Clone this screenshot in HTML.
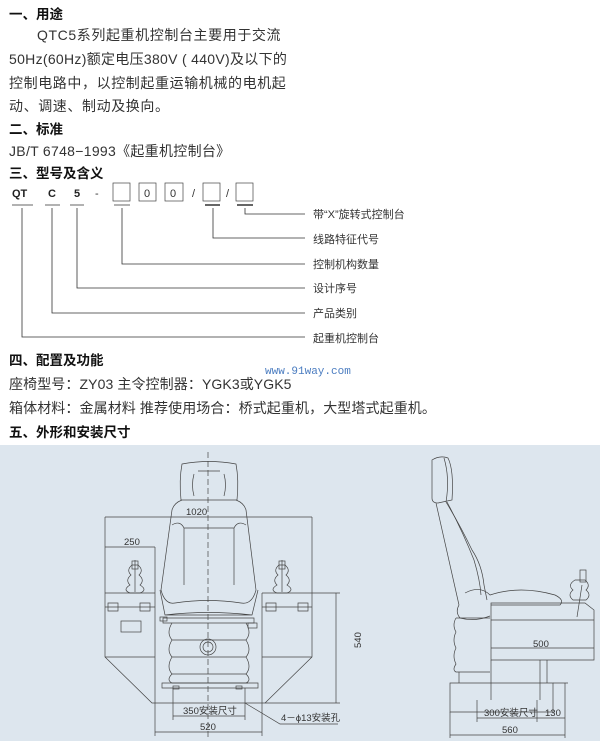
<!DOCTYPE html>
<html><head><meta charset="utf-8"><style>
html,body{margin:0;padding:0;background:#fff;width:600px;height:741px;overflow:hidden}
svg{display:block}
.h{font:bold 13.5px "Liberation Sans","Noto Sans CJK SC",sans-serif;fill:#111}
.b{font:14px "Liberation Sans","Noto Sans CJK SC",sans-serif;fill:#333;letter-spacing:0.6px}
.b2{font:14px "Liberation Sans","Noto Sans CJK SC",sans-serif;fill:#333;letter-spacing:0.1px}
.s{font:11px "Liberation Sans","Noto Sans CJK SC",sans-serif;fill:#333}
.m{font:bold 11px "Liberation Sans",sans-serif;fill:#222}
.d{font:9.5px "Liberation Sans","Noto Sans CJK SC",sans-serif;fill:#333}
.l{stroke:#333;stroke-width:0.8;fill:none}
.g{stroke:#444;stroke-width:0.7;fill:none}
</style></head><body>
<svg width="600" height="741" xmlns="http://www.w3.org/2000/svg">
<rect width="600" height="741" fill="#fff"/>
<text class="h" x="9" y="19">一、用途</text>
<text class="b" x="37" y="40">QTC5系列起重机控制台主要用于交流</text>
<text class="b" x="9" y="64" style="letter-spacing:0.3px">50Hz(60Hz)额定电压380V ( 440V)及以下的</text>
<text class="b" x="9" y="88">控制电路中，以控制起重运输机械的电机起</text>
<text class="b" x="9" y="111">动、调速、制动及换向。</text>
<text class="h" x="9" y="134">二、标准</text>
<text class="b" x="9" y="156" style="letter-spacing:0.3px">JB/T 6748−1993《起重机控制台》</text>
<text class="h" x="9" y="178">三、型号及含义</text>

<text class="m" x="12" y="197">QT</text>
<text class="m" x="48" y="197">C</text>
<text class="m" x="74" y="197">5</text>
<text class="s" x="95" y="197">-</text>
<rect x="113" y="183" width="17" height="18" class="g"/>
<rect x="139" y="183" width="17" height="18" class="g"/>
<text class="s" x="144" y="197">0</text>
<rect x="165" y="183" width="18" height="18" class="g"/>
<text class="s" x="170" y="197">0</text>
<text class="s" x="192" y="197">/</text>
<rect x="203" y="183" width="17" height="18" class="g"/>
<text class="s" x="226" y="197">/</text>
<rect x="236" y="183" width="17" height="18" class="g"/>
<g class="l">
<path d="M12 205H33M45 205H60M70 205H84M114 205H130"/>
<path d="M205 205H220M237 205H253" stroke-width="1.5"/>
<path d="M245 208V214H305M213 208V238H305M122 208V264H305M77 208V288H305M52 208V313H305M22 208V337H305"/>
</g>
<text class="s" x="313" y="218">带“X”旋转式控制台</text>
<text class="s" x="313" y="243">线路特征代号</text>
<text class="s" x="313" y="268">控制机构数量</text>
<text class="s" x="313" y="292">设计序号</text>
<text class="s" x="313" y="317">产品类别</text>
<text class="s" x="313" y="342">起重机控制台</text>

<text class="h" x="9" y="365">四、配置及功能</text>
<text x="265" y="374" style="font:11px 'Liberation Mono',monospace;fill:#4a7cc0">www.91way.com</text>
<text class="b2" x="9" y="389">座椅型号：ZY03  主令控制器：YGK3或YGK5</text>
<text class="b2" x="9" y="413">箱体材料：金属材料  推荐使用场合：桥式起重机，大型塔式起重机。</text>
<text class="h" x="9" y="437">五、外形和安装尺寸</text>

<rect x="0" y="445" width="600" height="296" fill="#dde6ee"/>
<!-- front view -->
<g class="g">
<path d="M208 452V740" stroke-dasharray="6,3"/>
<path d="M182 464Q209 459 236 464Q239 480 237 500H181Q179 480 182 464Z"/>
<path d="M194 474Q191 485 194 496M224 474Q227 485 224 496M198 471H220"/>
<path d="M182 500Q174 503 172 510L161 590Q165 605 175 603Q208 598 241 603Q252 605 256 590L246 510Q244 503 236 500"/>
<path d="M172 525Q180 520 184 528V585M246 525Q238 520 234 528V585M184 528H234"/>
<path d="M160 590L165 615H252L258 590M165 615Q208 610 252 615"/>
<path d="M163 618H254V623H163ZM172 623H248"/>
<path d="M172 623Q166 633 172 640Q166 650 172 657Q166 667 172 674Q166 680 172 683M246 623Q252 633 246 640Q252 650 246 657Q252 667 246 674Q252 680 246 683"/>
<path d="M172 640H246M172 657H246M172 674H246M172 683H248"/>
<circle cx="208" cy="647" r="8"/><circle cx="208" cy="647" r="5"/>
<path d="M162 683H258V688H162Z"/>
<rect x="173" y="686" width="6" height="3"/><rect x="236" y="686" width="6" height="3"/>
<rect x="248" y="623" width="9" height="5"/><rect x="160" y="617" width="7" height="4"/>
<!-- left console -->
<path d="M105 517V657L152 703H264M155 547V703M105 593H155M105 657H155"/>
<path d="M105 607H155M108 603H118V611H108ZM140 603H150V611H140Z"/>
<rect x="121" y="621" width="20" height="11"/>
<path d="M135 560V592M130 585Q125 580 131 575Q126 570 132 565H138Q144 570 139 575Q145 580 140 585Q148 590 140 593H130Q122 590 130 585Z"/>
<rect x="132" y="561" width="6" height="8"/>
<!-- right console -->
<path d="M312 517V657L265 703M262 593V703M262 593H340M262 657H312"/>
<path d="M262 607H312M266 603H276V611H266ZM298 603H308V611H298Z"/>
<path d="M282 560V592M277 585Q272 580 278 575Q273 570 279 565H285Q291 570 286 575Q292 580 287 585Q295 590 287 593H277Q269 590 277 585Z"/>
<rect x="279" y="561" width="6" height="8"/>
<!-- dims -->
<path d="M105 517H312M105 547H155M336 593V703M264 703H340M173 688V720M245 688V720M173 716H245M155 703V736M262 703V736M155 732H262M245 703L280 724H338"/>
</g>
<text class="d" x="186" y="515">1020</text>
<text class="d" x="124" y="545">250</text>
<text class="d" x="349" y="660" transform="rotate(-90 349 648)">540</text>
<text class="d" x="183" y="714">350安装尺寸</text>
<text class="d" x="200" y="730">520</text>
<text class="d" x="281" y="721">4－ϕ13安装孔</text>
<!-- side view -->
<g class="g">
<path d="M432 460Q440 455 448 458Q454 470 452 500L438 503Q432 503 432 498Z"/>
<path d="M444 458Q450 478 446 502"/>
<path d="M436 503L459 605M446 502Q460 525 472 550Q482 565 484 585Q486 595 487 600"/>
<path d="M447 502Q462 530 474 560Q480 580 481 595"/>
<path d="M459 605Q455 612 460 618Q475 622 490 616M465 593Q480 585 490 595Q520 585 555 595Q565 600 560 605H491"/>
<path d="M491 603H585L594 610V660H491ZM491 620H594M491 648H594"/>
<path d="M456 618H490M456 618Q452 625 456 632Q452 640 456 648Q452 656 456 664Q452 670 456 672H490"/>
<path d="M459 672V683M540 660V683M547 660V683M450 683H553V712H450ZM491 660V700M540 683V700"/>
<path d="M577 617L582 585M573 600Q567 595 573 590Q567 585 575 580H585Q591 585 586 590Q592 595 586 600Z"/>
<rect x="580" y="570" width="6" height="12"/>
<path d="M477 700V722M537 700V722M477 718H565M565 683V738M450 712V738M450 735H565M553 683H568"/>
</g>
<text class="d" x="533" y="647">500</text>
<text class="d" x="484" y="716">300安装尺寸</text>
<text class="d" x="545" y="716">130</text>
<text class="d" x="502" y="733">560</text>
</svg>
</body></html>
